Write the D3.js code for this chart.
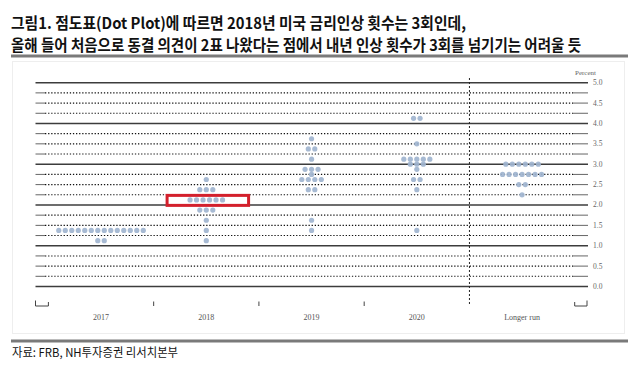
<!DOCTYPE html>
<html>
<head>
<meta charset="utf-8">
<script src="https://cdn.jsdelivr.net/npm/d3@7"></script>
<style>
  body { margin: 0; background: #fff; }
  svg { display: block; }
</style>
</head>
<body>
<script>
const categories = ['2017', '2018', '2019', '2020', 'Longer run']

// rate (midpoint) and number of participants per row
const rates2017 = [1.375, 1.125]
const counts2017 = [14, 2]
const rates2018 = [2.625, 2.375, 2.125, 1.875, 1.625, 1.375, 1.125]
const counts2018 = [1, 3, 6, 3, 1, 1, 1]
const rates2019 = [3.625, 3.375, 3.125, 2.875, 2.75, 2.625, 2.375, 1.625, 1.375]
const counts2019 = [1, 2, 1, 3, 1, 4, 2, 1, 1]
const rates2020 = [4.125, 3.5, 3.125, 3.0, 2.875, 2.625, 2.375, 1.375]
const counts2020 = [2, 1, 5, 3, 1, 2, 1, 1]
const ratesLonger = [3.0, 2.75, 2.5, 2.25]
const countsLonger = [6, 7, 2, 1]

const yLabels = ['0.0', '0.5', '1.0', '1.5', '2.0', '2.5', '3.0', '3.5', '4.0', '4.5', '5.0']

const titleLines = [
  '그림1. 점도표(Dot Plot)에 따르면 2018년 미국 금리인상 횟수는 3회인데,',
  '올해 들어 처음으로 동결 의견이 2표 나왔다는 점에서 내년 인상 횟수가 3회를 넘기기는 어려울 듯'
]
const source = '자료: FRB, NH투자증권 리서치본부'

const columns = [
  { name: '2017', rates: rates2017, counts: counts2017 },
  { name: '2018', rates: rates2018, counts: counts2018 },
  { name: '2019', rates: rates2019, counts: counts2019 },
  { name: '2020', rates: rates2020, counts: counts2020 },
  { name: 'Longer run', rates: ratesLonger, counts: countsLonger },
]

const width = 641
const height = 384
const svg = d3.select('body').append('svg')
  .attr('width', width)
  .attr('height', height)

const x = d3.scaleBand().domain(categories).range([48.4, 574.7])
const y = d3.scaleLinear().domain([0, 5]).range([286.5, 82.7])
const bw = x.bandwidth()
const left = 35.5
const right = 588
const serif = "'Liberation Serif', 'DejaVu Serif', serif"
const kr = "'Noto Sans CJK KR', sans-serif"

// title
svg.selectAll('text.title')
  .data(titleLines)
  .join('text')
  .attr('class', 'title')
  .attr('x', 11)
  .attr('y', (d, i) => i === 0 ? 28.5 : 50.5)
  .attr('textLength', (d, i) => i === 0 ? 455 : 570)
  .attr('lengthAdjust', 'spacingAndGlyphs')
  .attr('font-family', kr)
  .attr('font-weight', 700)
  .attr('font-size', 15.5)
  .attr('fill', '#111')
  .text(d => d)

svg.append('line')
  .attr('x1', 11).attr('x2', 628).attr('y1', 56).attr('y2', 56)
  .attr('stroke', '#7a7a7a').attr('stroke-width', 3)

// faint frame of the chart picture
svg.append('rect')
  .attr('x', 12.5).attr('y', 61.5).attr('width', 612).attr('height', 272)
  .attr('fill', 'none').attr('stroke', '#eeeeee')

// grid lines every 0.25
const gridVals = d3.range(0, 5.001, 0.25)
const grid = svg.append('g')

grid.selectAll('line.major')
  .data(gridVals.filter(v => v % 1 === 0))
  .join('line')
  .attr('x1', left).attr('x2', right)
  .attr('y1', d => y(d)).attr('y2', d => y(d))
  .attr('stroke', '#3c3c3c').attr('stroke-width', 1.4)

const minor = gridVals.filter(v => v % 1 !== 0)
grid.selectAll('line.minor')
  .data(minor)
  .join('line')
  .attr('x1', 45).attr('x2', 573)
  .attr('y1', d => y(d)).attr('y2', d => y(d))
  .attr('stroke', '#111').attr('stroke-width', 1.1)
  .attr('stroke-dasharray', '1.3,1.8')

grid.selectAll('line.minl')
  .data(minor)
  .join('line')
  .attr('x1', left).attr('x2', 45)
  .attr('y1', d => y(d)).attr('y2', d => y(d))
  .attr('stroke', '#666').attr('stroke-width', 1)

grid.selectAll('line.minr')
  .data(minor)
  .join('line')
  .attr('x1', 573).attr('x2', right)
  .attr('y1', d => y(d)).attr('y2', d => y(d))
  .attr('stroke', '#666').attr('stroke-width', 1)

// right labels
svg.selectAll('text.ylab')
  .data(yLabels)
  .join('text')
  .attr('x', 593)
  .attr('y', d => y(+d) + 2.5)
  .attr('font-family', serif)
  .attr('font-size', 7.5)
  .attr('fill', '#666')
  .text(d => d)

svg.append('text')
  .attr('x', 575).attr('y', 74.5)
  .attr('font-family', serif).attr('font-size', 7)
  .attr('fill', '#666')
  .text('Percent')

// dots
const dots = []
columns.forEach(col => {
  col.rates.forEach((r, i) => {
    const n = col.counts[i]
    for (let k = 0; k < n; k++) {
      dots.push({ name: col.name, rate: r, offset: k - (n - 1) / 2 })
    }
  })
})

svg.append('g')
  .selectAll('circle')
  .data(dots)
  .join('circle')
  .attr('cx', d => x(d.name) + bw / 2 + d.offset * 6.5)
  .attr('cy', d => y(d.rate))
  .attr('r', 2.6)
  .attr('fill', '#9fb4cf')
  .attr('fill-opacity', 0.92)

// separator before longer run
svg.append('line')
  .attr('x1', x('Longer run')).attr('x2', x('Longer run'))
  .attr('y1', 78).attr('y2', 306)
  .attr('stroke', '#222').attr('stroke-width', 1)
  .attr('stroke-dasharray', '2,2')

// bottom brackets and ticks
const axis = svg.append('g').attr('stroke', '#444').attr('stroke-width', 1)
axis.append('path')
  .attr('fill', 'none')
  .attr('d', `M${left},300.5V306H${x('2017')}V302`)
axis.append('path')
  .attr('fill', 'none')
  .attr('d', `M${x('Longer run') + bw},302V306H${right - 1}V300.5`)
axis.selectAll('line.tick')
  .data(['2018', '2019', '2020'])
  .join('line')
  .attr('x1', d => x(d)).attr('x2', d => x(d))
  .attr('y1', 301.5).attr('y2', 306)

svg.selectAll('text.xlab')
  .data(categories)
  .join('text')
  .attr('x', d => x(d) + bw / 2)
  .attr('y', 320)
  .attr('text-anchor', 'middle')
  .attr('font-family', serif)
  .attr('font-size', 8)
  .attr('fill', '#555')
  .text(d => d)

// highlight on the 2018 median row
svg.append('rect')
  .attr('x', x('2018') + bw / 2 - 39.2)
  .attr('y', y(2.125) - 4.5)
  .attr('width', 81.5)
  .attr('height', 10)
  .attr('fill', 'none')
  .attr('stroke', '#d3202c')
  .attr('stroke-width', 3)

// source
svg.append('line')
  .attr('x1', 11).attr('x2', 628).attr('y1', 341).attr('y2', 341)
  .attr('stroke', '#7a7a7a').attr('stroke-width', 3)

svg.append('text')
  .attr('x', 12).attr('y', 357)
  .attr('textLength', 166)
  .attr('lengthAdjust', 'spacingAndGlyphs')
  .attr('font-family', kr)
  .attr('font-size', 12)
  .attr('fill', '#111')
  .text(source)
</script>
</body>
</html>
